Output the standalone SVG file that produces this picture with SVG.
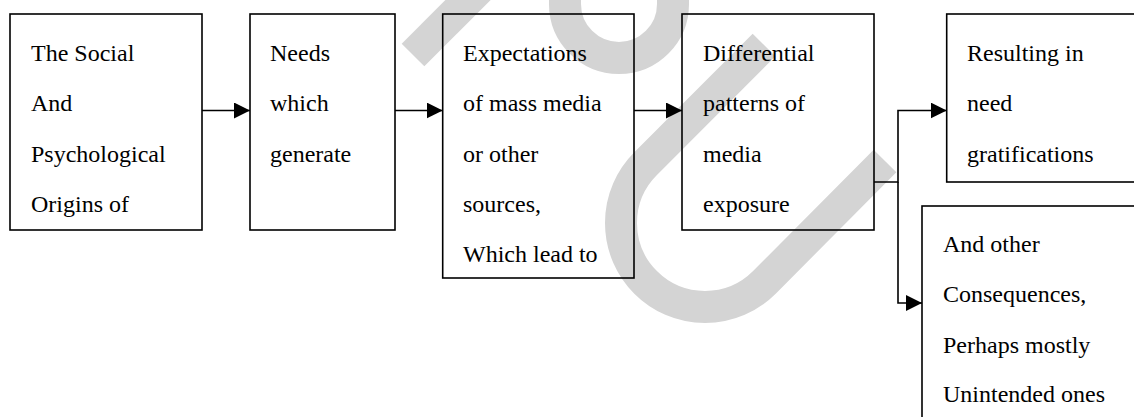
<svg xmlns="http://www.w3.org/2000/svg" width="1134" height="417" viewBox="0 0 1134 417">
  <defs>
    <marker id="arrow" markerUnits="userSpaceOnUse" markerWidth="16" markerHeight="16" refX="16" refY="8" orient="auto">
      <path d="M0,0 L16,8 L0,16 z" fill="#000"/>
    </marker>
    <style>
      .wm { fill: none; stroke: #d4d4d4; stroke-width: 32; stroke-linecap: butt; }
      .box { fill: none; stroke: #000; stroke-width: 1.6; }
      .conn { fill: none; stroke: #000; stroke-width: 1.6; }
      .lbl { font-family: "Liberation Serif", "Times New Roman", serif; font-size: 24px; fill: #000; }
    </style>
  </defs>
  <rect width="1134" height="417" fill="#fff"/>

  <g id="watermark">
    <path class="wm" d="M413,55 L480,-12"/>
    <path class="wm" d="M565,-20 L565,4 A54 54 0 0 0 673,4 L673,-20"/>
    <path class="wm" d="M764,45 L645.6,163.6 A84 84 0 0 0 764.4,282.4 L885,161"/>
  </g>

  <g id="connectors">
    <path class="conn" d="M202,110.5 H250" marker-end="url(#arrow)"/>
    <path class="conn" d="M395,110.5 H442.7" marker-end="url(#arrow)"/>
    <path class="conn" d="M634,110.5 H682" marker-end="url(#arrow)"/>
    <path class="conn" d="M874,182 H898 V110.5 H946.7" marker-end="url(#arrow)"/>
    <path class="conn" d="M898,182 V303 H922" marker-end="url(#arrow)"/>
  </g>

  <g id="node-origins">
    <rect class="box" x="10" y="14" width="192" height="216"/>
    <text class="lbl" x="31" y="61">The Social</text>
    <text class="lbl" x="31" y="111">And</text>
    <text class="lbl" x="31" y="162">Psychological</text>
    <text class="lbl" x="31" y="212">Origins of</text>
  </g>

  <g id="node-needs">
    <rect class="box" x="250" y="14" width="145" height="216"/>
    <text class="lbl" x="270" y="61">Needs</text>
    <text class="lbl" x="270" y="111">which</text>
    <text class="lbl" x="270" y="162">generate</text>
  </g>

  <g id="node-expectations">
    <rect class="box" x="442.7" y="14" width="191.3" height="264"/>
    <text class="lbl" x="463" y="61">Expectations</text>
    <text class="lbl" x="463" y="111">of mass media</text>
    <text class="lbl" x="463" y="162">or other</text>
    <text class="lbl" x="463" y="212">sources,</text>
    <text class="lbl" x="463" y="262">Which lead to</text>
  </g>

  <g id="node-patterns">
    <rect class="box" x="682" y="14" width="192" height="216"/>
    <text class="lbl" x="703" y="61">Differential</text>
    <text class="lbl" x="703" y="111">patterns of</text>
    <text class="lbl" x="703" y="162">media</text>
    <text class="lbl" x="703" y="212">exposure</text>
  </g>

  <g id="node-gratifications">
    <rect class="box" x="946.7" y="14" width="210" height="168"/>
    <text class="lbl" x="967" y="61">Resulting in</text>
    <text class="lbl" x="967" y="111">need</text>
    <text class="lbl" x="967" y="162">gratifications</text>
  </g>

  <g id="node-consequences">
    <rect class="box" x="922" y="206" width="230" height="230"/>
    <text class="lbl" x="943" y="252">And other</text>
    <text class="lbl" x="943" y="302">Consequences,</text>
    <text class="lbl" x="943" y="352.5">Perhaps mostly</text>
    <text class="lbl" x="943" y="402">Unintended ones</text>
  </g>
</svg>
